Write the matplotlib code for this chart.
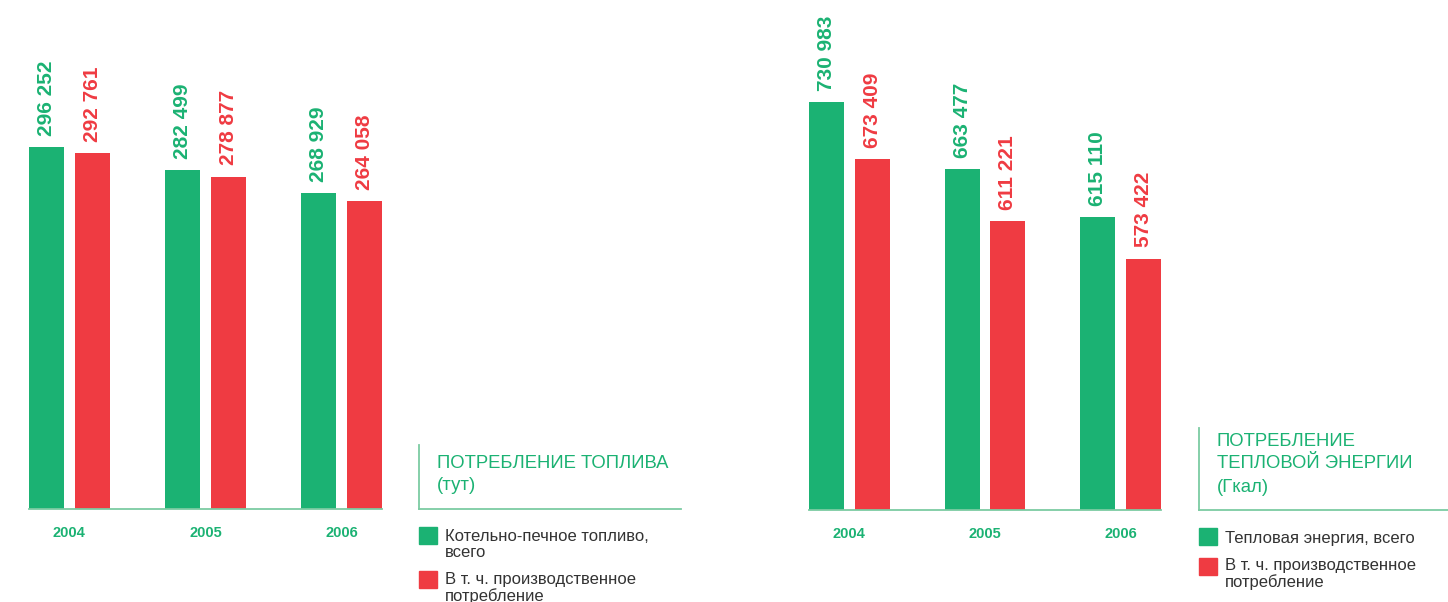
import matplotlib
matplotlib.use("Agg")
import matplotlib.pyplot as plt
from matplotlib.lines import Line2D
from matplotlib.patches import Rectangle

plt.rcParams['font.family'] = ['Liberation Sans', 'DejaVu Sans']

# ---- data ----
years = ["2004", "2005", "2006"]
fuel_total = [296252, 282499, 268929]
fuel_prod = [292761, 278877, 264058]
heat_total = [730983, 663477, 615110]
heat_prod = [673409, 611221, 573422]

fuel_title = ["ПОТРЕБЛЕНИЕ ТОПЛИВА", "(тут)"]
heat_title = ["ПОТРЕБЛЕНИЕ", "ТЕПЛОВОЙ ЭНЕРГИИ", "(Гкал)"]
fuel_legend = ["Котельно-печное топливо,\nвсего", "В т. ч. производственное\nпотребление"]
heat_legend = ["Тепловая энергия, всего", "В т. ч. производственное\nпотребление"]

GREEN = "#1BB273"
RED = "#EF3B42"
LINE = "#7CCBA2"
TEXT = "#333333"

W, H = 1448, 602
fig = plt.figure(figsize=(W / 100, H / 100), dpi=100)


def fx(px):
    return px / W


def fy(py):
    return 1 - py / H


def fmt(v):
    return f"{v:,}".replace(",", " ")


def make_chart(x0, x1, base, ymin, ymax, total, prod):
    ax = fig.add_axes([fx(x0), fy(base), fx(x1 - x0), base / H])
    xs = range(len(years))
    off = 0.1685
    bw = 0.2564
    for i in xs:
        ax.bar(i - off, total[i], width=bw, color=GREEN, bottom=0)
        ax.bar(i + off, prod[i], width=bw, color=RED, bottom=0)
        ax.annotate(fmt(total[i]), (i - off, total[i]), xytext=(0, 8),
                    textcoords="offset points", rotation=90, ha="center",
                    va="bottom", color=GREEN, fontsize=15, fontweight="bold")
        ax.annotate(fmt(prod[i]), (i + off, prod[i]), xytext=(0, 8),
                    textcoords="offset points", rotation=90, ha="center",
                    va="bottom", color=RED, fontsize=15, fontweight="bold")
    ax.set_xlim(-0.2967, 2.2967)
    ax.set_ylim(ymin, ymax)
    for s in ["top", "left", "right"]:
        ax.spines[s].set_visible(False)
    ax.spines["bottom"].set_color(LINE)
    ax.spines["bottom"].set_linewidth(1.3)
    ax.set_yticks([])
    ax.set_xticks(list(xs))
    ax.set_xticklabels(years, fontsize=10.5, fontweight="bold", color=GREEN)
    ax.tick_params(axis="x", length=0, pad=12)
    ax.patch.set_alpha(0)
    return ax


make_chart(29, 382, 509, 81000, 383976, fuel_total, fuel_prod)
make_chart(809, 1161, 510, 320460, 833538, heat_total, heat_prod)


def box(xv, ytop, ybot, xend):
    fig.add_artist(Line2D([fx(xv), fx(xv)], [fy(ytop), fy(ybot)], color=LINE, lw=1.3))
    fig.add_artist(Line2D([fx(xv), fx(xend)], [fy(ybot), fy(ybot)], color=LINE, lw=1.3))


box(419, 445, 509, 681)
box(1199, 428, 510, 1448)


def title(x, ys, lines):
    for y, t in zip(ys, lines):
        fig.text(fx(x), fy(y), t, color=GREEN, fontsize=13.3, ha="left", va="center")


title(437, [463, 485], fuel_title)
title(1217, [441, 464, 487], heat_title)


def legend(x, items):
    for (ysq, ytxt, col, txt) in items:
        fig.add_artist(Rectangle((fx(x), fy(ysq + 17)), fx(18), 17 / H,
                                 color=col, transform=fig.transFigure))
        fig.text(fx(x + 26), fy(ytxt), txt, color=TEXT, fontsize=12,
                 ha="left", va="top", linespacing=1.12)


legend(419, [(527, 529, GREEN, fuel_legend[0]), (571, 572, RED, fuel_legend[1])])
legend(1199, [(528, 531, GREEN, heat_legend[0]), (558, 558, RED, heat_legend[1])])

fig.savefig("out.png", dpi=100)
